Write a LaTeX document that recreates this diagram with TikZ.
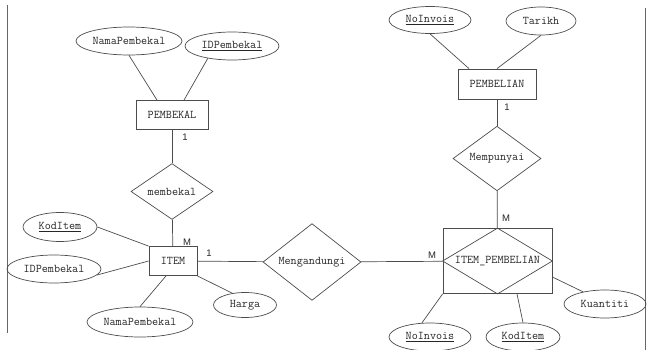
\documentclass[tikz,border=0pt]{standalone}
\usepackage{fontspec}
\setsansfont{Liberation Sans}
\usetikzlibrary{shapes.geometric}

\begin{document}
\begin{tikzpicture}[x=1pt, y=-1pt,
        every node/.style={inner sep=0pt, text=black!85, font=\ttfamily\fontsize{11.8}{13}\selectfont},
        entity/.style={draw=black!70, line width=0.8pt, rectangle},
        attr/.style={draw=black!70, line width=0.7pt, ellipse},
        rel/.style={draw=black!70, line width=0.7pt, diamond},
        card/.style={font=\sffamily\fontsize{9.5}{11}\selectfont},
        link/.style={draw=black!70, line width=0.7pt}]

        \useasboundingbox (0,0) rectangle (648,350);

        % page frame on the left and right
        \draw[black!60, line width=0.9pt] (7,5) -- (7,333);
        \draw[black!60, line width=0.9pt] (645.5,8) -- (645.5,350);

        %%% PEMBEKAL entity
        \node[entity, minimum width=72pt, minimum height=29pt] (pembekal) at (172,115) {PEMBEKAL};
        \node[attr, minimum width=106pt, minimum height=28pt] (namaA) at (129,41) {NamaPembekal};
        \node[attr, minimum width=94pt, minimum height=28pt] (idA) at (232,46) {\underline{IDPembekal}};

        % relationship between PEMBEKAL and ITEM
        \node[rel, minimum width=82pt, minimum height=50pt] (membekal) at (172,191.5) {membekal};

        %%% ITEM entity
        \node[entity, minimum width=48pt, minimum height=29pt] (item) at (173,261) {ITEM};
        \node[attr, minimum width=74pt, minimum height=29pt] (kodA) at (60,227) {\underline{KodItem}};
        \node[attr, minimum width=94pt, minimum height=28pt] (idB) at (54,269) {IDPembekal};
        \node[attr, minimum width=106pt, minimum height=30pt] (namaB) at (140,322) {NamaPembekal};
        \node[attr, minimum width=63pt, minimum height=25pt] (harga) at (245,305) {Harga};

        % relationship between ITEM and ITEM_PEMBELIAN
        \node[rel, minimum width=98pt, minimum height=60pt] (mengandungi) at (312,262) {Mengandungi};

        %%% PEMBELIAN entity
        \node[entity, minimum width=78pt, minimum height=30pt] (pembelian) at (497,84) {PEMBELIAN};
        \node[attr, minimum width=82pt, minimum height=27pt] (noA) at (430,20) {\underline{NoInvois}};
        \node[attr, minimum width=70pt, minimum height=28pt] (tarikh) at (541,21) {Tarikh};

        % relationship between PEMBELIAN and ITEM_PEMBELIAN
        \node[rel, minimum width=88pt, minimum height=51pt] (mempunyai) at (497,158.5) {Mempunyai};

        %%% ITEM_PEMBELIAN associative entity (diamond inside a box)
        \node[entity, line width=0.7pt, minimum width=109pt, minimum height=65pt] (itemp) at (497.5,261) {ITEM\_PEMBELIAN};
        \draw[link] (itemp.north) -- (itemp.east) -- (itemp.south) -- (itemp.west) -- cycle;
        \node[attr, minimum width=82pt, minimum height=28pt] (noB) at (430,337) {\underline{NoInvois}};
        \node[attr, minimum width=74pt, minimum height=28pt] (kodB) at (523,337) {\underline{KodItem}};
        \node[attr, minimum width=82pt, minimum height=28pt] (kuantiti) at (605,304) {Kuantiti};

        %%% cardinalities
        \node[card] (cPembekal) at (185,137) {1};
        \node[card] (cItemM) at (187,242) {M};
        \node[card] (cItem1) at (209,253) {1};
        \node[card] (cPembelian) at (507,107) {1};
        \node[card] (cItempTop) at (506,218) {M};
        \node[card] (cItempLeft) at (432,255) {M};

        %%% connectors
        \draw[link] (namaA.south) -- ([xshift=-15pt]pembekal.north);
        \draw[link] (idA.207) -- ([xshift=12pt]pembekal.north);
        \draw[link] (pembekal) -- (membekal);
        \draw[link] (membekal) -- (item);
        \draw[link] (kodA.east) -- (item.north west);
        \draw[link] (idB.-8) -- (item.west);
        \draw[link] (namaB.north) -- ([xshift=-7pt]item.south);
        \draw[link] (harga.137) -- (item.south east);
        \draw[link] (item) -- (mengandungi);
        \draw[link] (mengandungi) -- (itemp);
        \draw[link] (noA.south) -- ([xshift=-28pt]pembelian.north);
        \draw[link] (tarikh.south) -- (pembelian.north);
        \draw[link] (pembelian) -- (mempunyai);
        \draw[link] (mempunyai) -- (itemp);
        \draw[link] (kuantiti.151) -- ([yshift=-16pt]itemp.east);
        \draw[link] (noB.120) -- (itemp.south west);
        \draw[link] (kodB.north) -- ([xshift=19.5pt]itemp.south);
\end{tikzpicture}
\end{document}
